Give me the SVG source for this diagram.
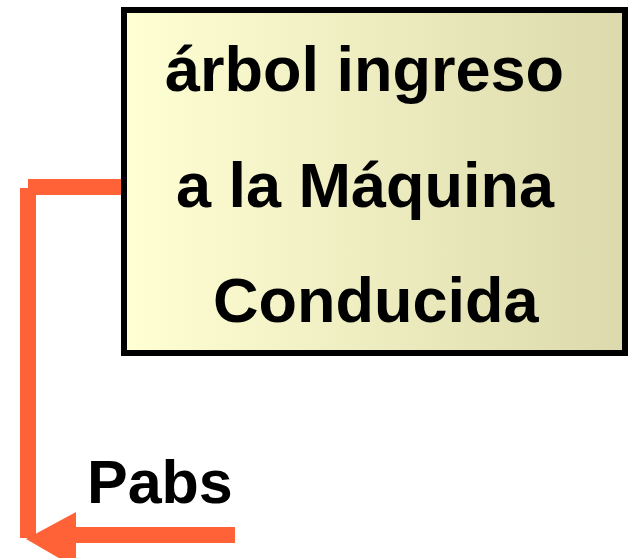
<svg xmlns="http://www.w3.org/2000/svg" width="630" height="558" viewBox="0 0 630 558">
<defs>
<linearGradient id="fill" x1="0" y1="0" x2="1" y2="0">
<stop offset="0" stop-color="#FFFFD4"/>
<stop offset="1" stop-color="#DCDAAC"/>
</linearGradient>
<style>
.t{font-family:"Liberation Sans",Arial,sans-serif;font-weight:bold;fill:#000}
.c{stroke:#FF6236;stroke-width:16;fill:none}
</style>
</defs>
<rect width="630" height="558" fill="#fff"/>
<g id="connectors">
<line class="c" x1="124" y1="187" x2="28" y2="187"/>
<line class="c" x1="28" y1="188" x2="28" y2="538"/>
<line class="c" x1="235" y1="535" x2="70" y2="535"/>
<polygon points="26,539 76,512 76,568" fill="#FF6236"/>
</g>
<g id="box">
<rect x="124" y="10" width="501" height="343" fill="url(#fill)" stroke="#000" stroke-width="6"/>
<text class="t" font-size="63" x="165" y="91">árbol ingreso</text>
<text class="t" font-size="63" x="176" y="207">a la Máquina</text>
<text class="t" font-size="63" x="213" y="322">Conducida</text>
</g>
<g id="label">
<text class="t" font-size="61" x="87" y="503">Pabs</text>
</g>
</svg>
